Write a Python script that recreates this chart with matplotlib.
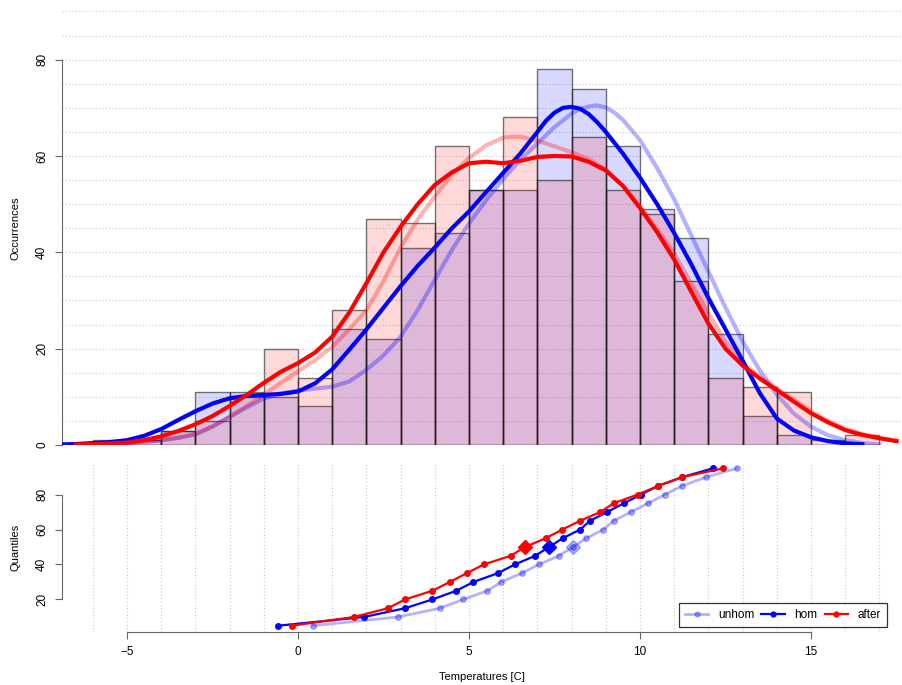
import matplotlib
matplotlib.use("Agg")
import matplotlib.pyplot as plt
from matplotlib.lines import Line2D
import numpy as np

plt.rcParams['font.family'] = ['Liberation Sans', 'DejaVu Sans']

# histogram bins (left edges, width 1 degree)
bin_left = np.arange(-6, 17)
hom_counts = [1, 1, 3, 11, 11, 10, 8, 24, 22, 41, 44, 53, 53, 78, 74, 62, 49, 43, 23, 6, 2, 0, 0]
after_counts = [0, 1, 3, 5, 10, 20, 14, 28, 47, 46, 62, 53, 68, 55, 64, 53, 48, 34, 14, 12, 11, 1, 2]

unhom_x = [-7, -6.5, -6, -5.5, -5, -4.5, -4, -3.5, -3, -2.5, -2, -1.5, -1, -0.5, 0, 0.5, 1, 1.5,
           2, 2.5, 3, 3.5, 4, 4.5, 5, 5.5, 6, 6.5, 7, 7.5, 8, 8.25, 8.5, 8.75, 9, 9.25, 9.5,
           10, 10.5, 11, 11.5, 12, 12.5, 13, 13.5, 14, 14.5, 15, 15.5, 16, 16.5, 17]
unhom_y = [0.0, 0.05, 0.1, 0.2, 0.4, 0.7, 1.0, 1.5, 2.2, 3.8, 5.8, 7.8, 9.6, 10.7, 11.3, 11.7,
           12.1, 13.2, 15.6, 18.6, 22.5, 28.0, 34.3, 40.5, 46.0, 50.8, 55.2, 59.2, 62.6, 66.0,
           68.8, 69.8, 70.3, 70.5, 70.1, 69.0, 67.5, 63.3, 57.5, 51.0, 43.5, 36.0, 28.5, 21.5,
           15.5, 10.5, 6.5, 3.8, 2.0, 1.0, 0.4, 0.1]
ref_x = [-6.5, -6, -5.5, -5, -4.5, -4, -3.5, -3, -2.5, -2, -1.5, -1, -0.5, 0, 0.5, 1, 1.5, 2,
         2.5, 3, 3.5, 4, 4.5, 5, 5.5, 6, 6.25, 6.5, 7, 7.5, 8, 8.5, 9, 9.5, 10, 10.5, 11, 11.5,
         12, 12.5, 13, 13.5, 14, 14.5, 15, 15.5, 16, 16.5, 17, 17.5]
ref_y = [0.05, 0.1, 0.2, 0.4, 0.7, 1.0, 1.5, 2.3, 3.9, 5.9, 8.1, 10.4, 12.9, 15.3, 17.6, 20.4,
         24.0, 28.0, 34.0, 41.0, 46.8, 51.6, 56.2, 59.6, 62.2, 63.8, 64.0, 64.0, 63.2, 62.0,
         60.8, 59.3, 57.2, 53.8, 49.5, 44.8, 39.8, 33.5, 27.3, 21.5, 17.0, 14.2, 11.8, 9.4,
         7.0, 5.0, 3.4, 2.3, 1.5, 0.9]
hom_x = [-7, -6.5, -6, -5.5, -5, -4.5, -4, -3.5, -3, -2.5, -2, -1.5, -1, -0.5, 0, 0.5, 1, 1.5,
         2, 2.5, 3, 3.5, 4, 4.5, 5, 5.5, 6, 6.5, 7, 7.25, 7.5, 7.75, 8, 8.25, 8.5, 8.75, 9,
         9.5, 10, 10.5, 11, 11.5, 12, 12.5, 13, 13.5, 14, 14.5, 15, 15.5, 16, 16.5]
hom_y = [0.1, 0.2, 0.4, 0.6, 1.0, 1.9, 3.3, 5.2, 7.0, 8.6, 9.7, 10.2, 10.4, 10.6, 11.1, 12.8,
         15.7, 19.8, 24.0, 28.5, 33.0, 37.2, 41.0, 45.0, 48.5, 52.5, 56.5, 60.5, 65.0, 67.3,
         69.0, 70.0, 70.2, 69.8, 68.7, 67.0, 65.0, 60.5, 55.5, 50.0, 44.0, 37.5, 30.5, 24.0,
         17.5, 10.8, 5.5, 3.0, 1.6, 0.8, 0.35, 0.15]
after_x = [-6.5, -6, -5.5, -5, -4.5, -4, -3.5, -3, -2.5, -2, -1.5, -1, -0.5, 0, 0.5, 1, 1.5, 2,
           2.5, 3, 3.5, 4, 4.5, 5, 5.5, 6, 6.5, 7, 7.5, 8, 8.5, 9, 9.5, 10, 10.5, 11, 11.5,
           12, 12.5, 13, 13.5, 14, 14.5, 15, 15.5, 16, 16.5, 17, 17.5]
after_y = [0.1, 0.2, 0.3, 0.5, 1.0, 1.8, 2.9, 4.3, 6.0, 8.1, 10.4, 12.9, 15.2, 17.0, 19.2,
           22.5, 27.5, 33.6, 40.0, 45.3, 50.0, 54.0, 56.6, 58.5, 58.8, 58.5, 59.0, 59.8, 60.0,
           59.9, 58.8, 57.0, 53.8, 49.2, 44.2, 38.5, 31.8, 25.2, 20.0, 16.5, 13.8, 11.4, 9.0,
           6.6, 4.7, 3.1, 2.1, 1.4, 0.8]

# quantiles 5%..95%
probs = np.arange(5, 96, 5)
q_unhom = [0.43, 2.93, 4.15, 4.83, 5.54, 5.94, 6.54, 7.04, 7.63, 8.04, 8.43, 8.93, 9.23, 9.73,
           10.24, 10.73, 11.24, 11.94, 12.84]
q_hom = [-0.58, 1.94, 3.13, 3.93, 4.63, 5.13, 5.84, 6.34, 6.94, 7.34, 7.74, 8.25, 8.54, 9.04,
         9.53, 10.03, 10.54, 11.24, 12.14]
q_after = [-0.18, 1.64, 2.63, 3.13, 3.93, 4.44, 4.93, 5.43, 6.22, 6.64, 7.24, 7.73, 8.25, 8.84,
           9.23, 9.93, 10.54, 11.24, 12.44]

col_unhom = (0.0, 0.0, 1.0, 0.3)
col_ref = (1.0, 0.0, 0.0, 0.3)
grid_kw = dict(color='#c8c8c8', lw=0.8, ls=(0, (1, 2)), zorder=0)
axis_col = '#666666'

fig = plt.figure(figsize=(9.02, 6.85), dpi=100)
W, H = 902.0, 685.0
ax1 = fig.add_axes([62 / W, 1 - 445 / H, 840 / W, 434 / H])
ax2 = fig.add_axes([62 / W, 1 - 632 / H, 840 / W, 170 / H])

xlim = (-6.9, 17.66)

# ---- top panel: histograms + densities
for yv in np.arange(0, 91, 5):
    ax1.axhline(yv, **grid_kw)
ax1.bar(bin_left, hom_counts, width=1, align='edge', color=(0, 0, 1, 0.15),
        edgecolor=(0.1, 0.1, 0.1, 0.6), lw=1, zorder=1)
ax1.bar(bin_left, after_counts, width=1, align='edge', color=(1, 0, 0, 0.15),
        edgecolor=(0.1, 0.1, 0.1, 0.6), lw=1, zorder=1)
ax1.plot(unhom_x, unhom_y, color=col_unhom, lw=3, zorder=2, solid_joinstyle='round')
ax1.plot(ref_x, ref_y, color=col_ref, lw=3, zorder=2, solid_joinstyle='round')
ax1.plot(hom_x, hom_y, color='blue', lw=3, zorder=3, solid_joinstyle='round')
ax1.plot(after_x, after_y, color='red', lw=3, zorder=3, solid_joinstyle='round')

ax1.set_xlim(xlim)
ax1.set_ylim(0, 90.1)
for s in ['top', 'right', 'bottom']:
    ax1.spines[s].set_visible(False)
ax1.spines['left'].set_bounds(0, 80)
ax1.spines['left'].set_color(axis_col)
ax1.set_xticks([])
ax1.set_yticks([0, 20, 40, 60, 80])
ax1.tick_params(axis='y', length=5, color=axis_col, labelsize=8.5, pad=5)
for lab in ax1.get_yticklabels():
    lab.set_rotation(90)
    lab.set_va('center')
ax1.set_ylabel('Occurrences', fontsize=8)
ax1.yaxis.set_label_coords(-42 / 840, 0.5)

# ---- bottom panel: quantiles
for xv in np.arange(-6, 18, 1):
    ax2.axvline(xv, **grid_kw)
ax2.plot(q_unhom, probs, color=col_unhom, lw=2, marker='o', ms=4, zorder=2)
ax2.plot(q_hom, probs, color='blue', lw=1.6, marker='o', ms=4, zorder=3)
ax2.plot(q_after, probs, color='red', lw=1.6, marker='o', ms=4, zorder=4)
mid = list(probs).index(50)
ax2.plot(q_unhom[mid], 50, marker='D', ms=7, color=col_unhom, ls='none', zorder=2)
ax2.plot(q_hom[mid], 50, marker='D', ms=7, color='blue', ls='none', zorder=3)
ax2.plot(q_after[mid], 50, marker='D', ms=7, color='red', ls='none', zorder=4)

ax2.set_xlim(xlim)
ax2.set_ylim(1.4, 98.6)
for s in ['top', 'right']:
    ax2.spines[s].set_visible(False)
ax2.spines['left'].set_bounds(20, 80)
ax2.spines['bottom'].set_bounds(-5, 15)
ax2.spines['left'].set_color(axis_col)
ax2.spines['bottom'].set_color(axis_col)
ax2.set_xticks([-5, 0, 5, 10, 15])
ax2.set_yticks([20, 40, 60, 80])
ax2.tick_params(axis='both', length=5, color=axis_col, labelsize=8.5, pad=5)
for lab in ax2.get_yticklabels():
    lab.set_rotation(90)
    lab.set_va('center')
ax2.set_ylabel('Quantiles', fontsize=8)
ax2.yaxis.set_label_coords(-42 / 840, 0.5)
ax2.set_xlabel('Temperatures [C]', fontsize=8, labelpad=10)

handles = [Line2D([], [], color=col_unhom, lw=2, marker='o', ms=3.5),
           Line2D([], [], color='blue', lw=1.6, marker='o', ms=3.5),
           Line2D([], [], color='red', lw=1.6, marker='o', ms=3.5)]
leg = ax2.legend(handles, ['unhom', 'hom', 'after'], ncol=3, loc='lower right',
                 bbox_to_anchor=(0.982, 0.031), fontsize=8.5, frameon=True, fancybox=False,
                 edgecolor='black', handlelength=2.0, handletextpad=0.8, columnspacing=0.6,
                 borderpad=0.5, borderaxespad=0, markerscale=1)
leg.get_frame().set_linewidth(0.9)

fig.savefig('out.png', dpi=100)
